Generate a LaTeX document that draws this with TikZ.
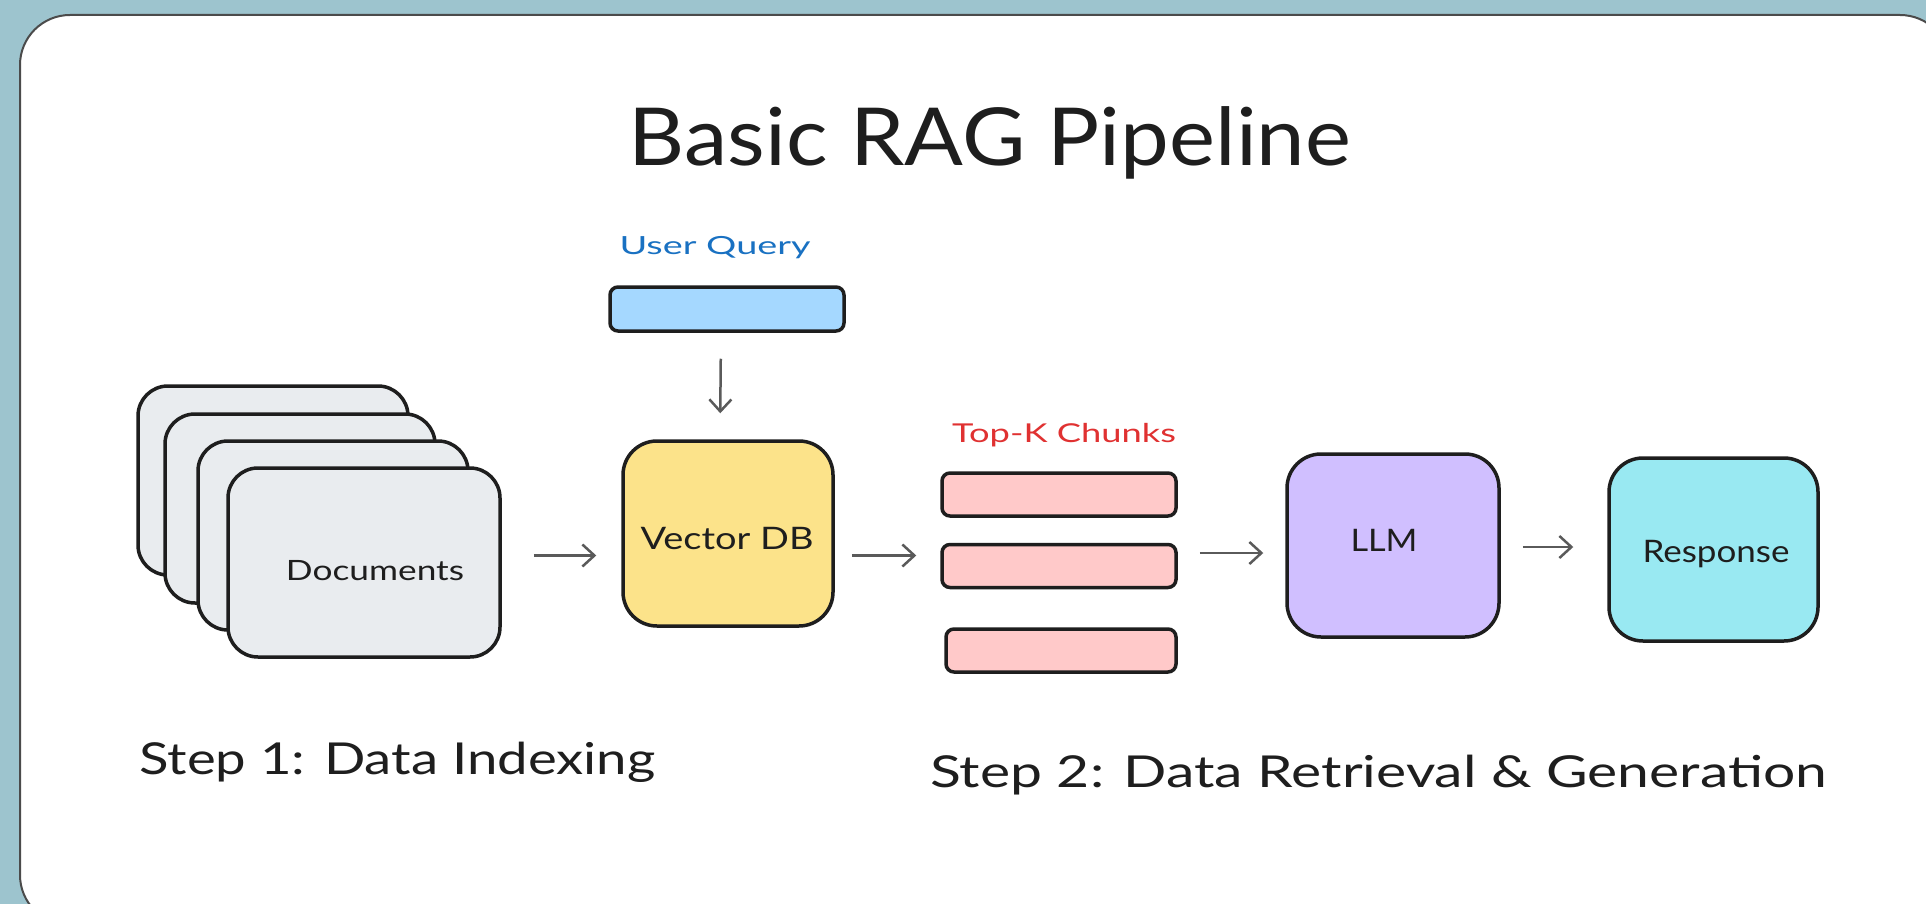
\documentclass[tikz,border=0pt]{standalone}
\usepackage{fontspec}
\setmainfont{Lato}
\usetikzlibrary{arrows.meta}
\definecolor{bgteal}{HTML}{9DC4CE}
\definecolor{ink}{HTML}{1E1E1E}
\definecolor{docgray}{HTML}{E9ECEF}
\definecolor{qblue}{HTML}{A5D8FF}
\definecolor{vyellow}{HTML}{FCE38A}
\definecolor{cpink}{HTML}{FFC9C9}
\definecolor{lpurple}{HTML}{D0BFFF}
\definecolor{rcyan}{HTML}{99E9F2}
\definecolor{tblue}{HTML}{1971C2}
\definecolor{tred}{HTML}{E03131}
\definecolor{arrgray}{HTML}{5A5A5A}
\newcommand{\fitw}[2]{\resizebox{#1}{\height}{#2}}
\tikzset{
  box/.style={draw=ink, line width=3.5pt, rounded corners=34pt, inner sep=0pt},
  card/.style={box, fill=docgray, minimum width=270pt, minimum height=189pt, rounded corners=30pt},
  bar/.style={draw=ink, line width=3.5pt, rounded corners=8pt, inner sep=0pt, minimum height=43pt},
  lbl/.style={anchor=base, text=ink, inner sep=0pt},
  arr/.style={draw=arrgray, line width=2.5pt, -{Straight Barb[length=12pt,width=22pt,line width=2.5pt]}},
}
\begin{document}
\begin{tikzpicture}[x=1pt,y=-1pt]
\useasboundingbox (0,0) rectangle (1926,904);
\fill[bgteal] (0,0) rectangle (1926,904);
\filldraw[fill=white, draw=ink!80, line width=2pt, rounded corners=50pt] (20,15) rectangle (1950,925);

% title
\node[lbl] (title) at (990,166) {\fitw{722pt}{\fontsize{80}{90}\selectfont Basic RAG Pipeline}};

% documents stack
\node[card] (d1) at (273,480.5) {};
\node[card] (d2) at (300,508.5) {};
\node[card] (d3) at (333,535.5) {};
\node[card, minimum width=272pt] (docs) at (364,562.5) {};
\node[lbl] (docslbl) at (375,580) {\fitw{178pt}{\fontsize{28}{32}\selectfont Documents}};

% user query
\node[lbl, text=tblue] (uqlbl) at (715,254) {\fitw{191pt}{\fontsize{25}{30}\selectfont User Query}};
\node[bar, fill=qblue, minimum width=234pt, minimum height=44pt] (uq) at (727,309) {};

% vector db
\node[box, fill=vyellow, minimum width=210pt, minimum height=185pt] (vdb) at (728,533.5) {};
\node[lbl] (vdblbl) at (727,549) {\fitw{173pt}{\fontsize{31}{36}\selectfont Vector DB}};

% chunks
\node[lbl, text=tred] (tklbl) at (1064,442) {\fitw{224pt}{\fontsize{26}{30}\selectfont Top-K Chunks}};
\node[bar, fill=cpink, minimum width=234pt] (c1) at (1059,494.5) {};
\node[bar, fill=cpink, minimum width=234pt] (c2) at (1059,566) {};
\node[bar, fill=cpink, minimum width=230pt] (c3) at (1061,650.5) {};

% llm
\node[box, fill=lpurple, minimum width=212pt, minimum height=183pt] (llm) at (1393,545.5) {};
\node[lbl] (llmlbl) at (1384,551) {\fitw{67pt}{\fontsize{31}{36}\selectfont LLM}};

% response
\node[box, fill=rcyan, minimum width=209pt, minimum height=183pt] (resp) at (1713.5,549.5) {};
\node[lbl] (resplbl) at (1716,562) {\fitw{147pt}{\fontsize{31}{36}\selectfont Response}};

% steps
\node[lbl, anchor=base west] (s1) at (139,774) {\fitw{516pt}{\fontsize{44}{50}\selectfont Step 1: Data Indexing}};
\node[lbl, anchor=base west] (s2) at (930,787) {\fitw{897pt}{\fontsize{44}{50}\selectfont Step 2: Data Retrieval \& Generation}};

% arrows
\draw[arr, shorten <=26pt, shorten >=26pt] ([xshift=-6pt]uq.south) -- ([xshift=-7pt]uq.south |- vdb.north);
\draw[arr, shorten <=32pt, shorten >=25pt] ([yshift=7pt]docs.east) -- ([yshift=7pt]docs.east -| vdb.west);
\draw[arr, shorten <=17pt, shorten >=24pt] ([yshift=-22pt]vdb.east) -- ([yshift=-22pt]vdb.east -| c2.west);
\draw[arr, shorten <=22pt, shorten >=22pt] ([yshift=13pt]c2.east) -- ([yshift=13pt]c2.east -| llm.west);
\draw[arr, shorten <=22pt, shorten >=34pt] ([yshift=-1.5pt]llm.east) -- ([yshift=-1.5pt]llm.east -| resp.west);
\end{tikzpicture}
\end{document}
